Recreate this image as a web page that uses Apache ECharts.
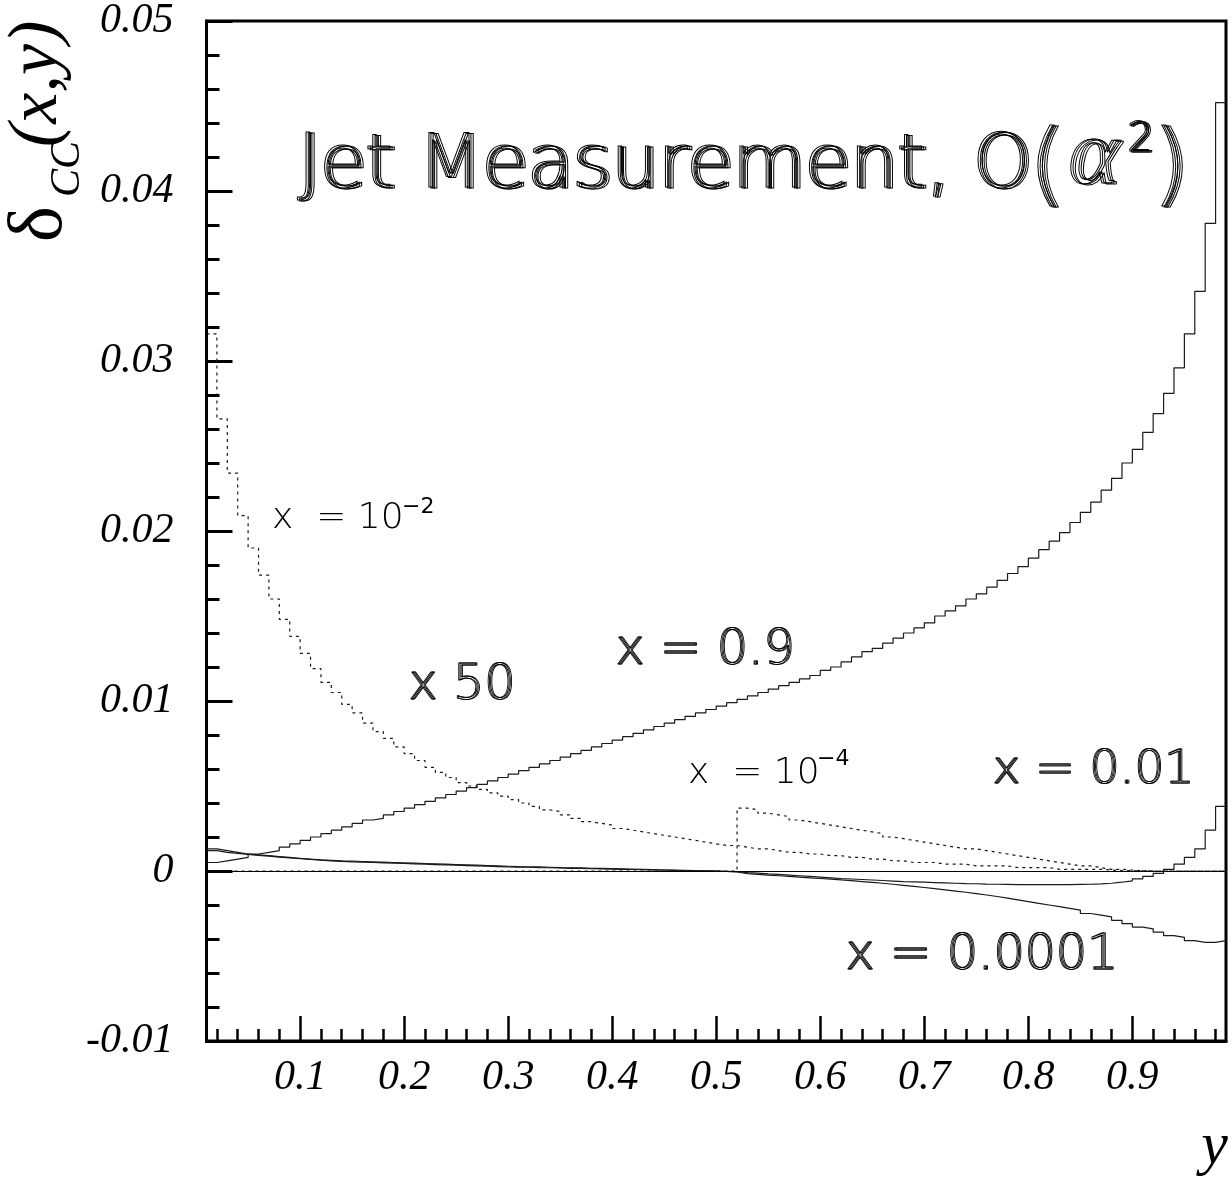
<!DOCTYPE html>
<html>
<head>
<meta charset="utf-8">
<script src="https://cdn.jsdelivr.net/npm/echarts@6/dist/echarts.min.js"></script>
<style>
  html, body { margin: 0; padding: 0; background: #fff; }
  #chart { width: 1232px; height: 1190px; }
</style>
</head>
<body>
<div id="chart"></div>
<script>
// histogram bins in y: width 0.01, first bin starts at 0.01 (98 bins up to 0.99)
const yFirstEdge = 0.01
const binWidth = 0.01

const xMajorTicks = [0.1, 0.2, 0.3, 0.4, 0.5, 0.6, 0.7, 0.8, 0.9]
const xMinorTicks = [0.02, 0.04, 0.06, 0.08, 0.12, 0.14, 0.16, 0.18, 0.22, 0.24, 0.26, 0.28,
  0.32, 0.34, 0.36, 0.38, 0.42, 0.44, 0.46, 0.48, 0.52, 0.54, 0.56, 0.58, 0.62, 0.64, 0.66, 0.68,
  0.72, 0.74, 0.76, 0.78, 0.82, 0.84, 0.86, 0.88, 0.92, 0.94, 0.96, 0.98]

// x = 0.9
const deltaX09 = [
  0.0005, 0.0006, 0.0007, 0.0008, 0.0010, 0.0011, 0.0012, 0.0014, 0.0016, 0.0018,
  0.0020, 0.0022, 0.0024, 0.0026, 0.0028, 0.0030, 0.0031, 0.0033, 0.0035, 0.0037,
  0.0039, 0.0041, 0.0043, 0.0045, 0.0047, 0.0049, 0.0051, 0.0053, 0.0055, 0.0057,
  0.0059, 0.0061, 0.0063, 0.0065, 0.0067, 0.0069, 0.0071, 0.0073, 0.0075, 0.0077,
  0.0079, 0.0081, 0.0083, 0.0085, 0.0087, 0.0089, 0.0091, 0.0093, 0.0095, 0.0097,
  0.0099, 0.0101, 0.0103, 0.0105, 0.0107, 0.0109, 0.0111, 0.0113, 0.0115, 0.0118,
  0.0120, 0.0123, 0.0126, 0.0129, 0.0131, 0.0134, 0.0137, 0.0140, 0.0143, 0.0146,
  0.0150, 0.0153, 0.0156, 0.0160, 0.0163, 0.0167, 0.0171, 0.0175, 0.0179, 0.0184,
  0.0189, 0.0194, 0.0199, 0.0205, 0.0211, 0.0217, 0.0224, 0.0231, 0.0240, 0.0248,
  0.0258, 0.0269, 0.0281, 0.0296, 0.0316, 0.0341, 0.0381, 0.0452
]

// x = 0.01
const deltaX001 = [
  0.0013, 0.0012, 0.0011, 0.0010, 0.00095, 0.0009, 0.00085, 0.0008, 0.00075, 0.0007,
  0.00066, 0.00063, 0.0006, 0.00058, 0.00056, 0.00054, 0.00052, 0.0005, 0.00048, 0.00046,
  0.00044, 0.00042, 0.0004, 0.00038, 0.00036, 0.00034, 0.00032, 0.0003, 0.00028, 0.00026,
  0.00025, 0.00024, 0.00022, 0.0002, 0.00019, 0.00018, 0.00016, 0.00015, 0.00014, 0.00012,
  0.0001, 0.00009, 0.00008, 0.00006, 0.00005, 0.00004, 0.00002, 0.00001, 0, -0.00002,
  -0.00004, -0.0001, -0.00013, -0.00017, -0.0002, -0.00024, -0.00028, -0.00032, -0.00036, -0.0004,
  -0.00044, -0.00047, -0.0005, -0.00053, -0.00056, -0.00059, -0.00062, -0.00064, -0.00066, -0.00068,
  -0.0007, -0.00072, -0.00074, -0.00075, -0.00077, -0.00078, -0.00079, -0.0008, -0.0008, -0.0008,
  -0.0008, -0.0008, -0.0008, -0.00079, -0.00078, -0.00076, -0.00072, -0.00066, -0.00058, -0.00046,
  -0.00032, -0.00014, 0.0001, 0.0004, 0.0008, 0.0013, 0.0024, 0.0038
]

// x = 0.0001
const deltaX00001 = [
  0.0012, 0.0011, 0.00104, 0.00098, 0.00092, 0.00087, 0.00082, 0.00077, 0.00072, 0.00068,
  0.00064, 0.0006, 0.00057, 0.00054, 0.00052, 0.0005, 0.00048, 0.00046, 0.00044, 0.00042,
  0.0004, 0.00038, 0.00036, 0.00034, 0.00032, 0.0003, 0.00028, 0.00026, 0.00024, 0.00023,
  0.00022, 0.0002, 0.00019, 0.00018, 0.00016, 0.00015, 0.00014, 0.00012, 0.00011, 0.0001,
  0.00009, 0.00008, 0.00007, 0.00006, 0.00004, 0.00003, 0.00002, 0.00001, -0.00001, -0.00003,
  -0.00006, -0.00015, -0.0002, -0.00024, -0.00028, -0.00032, -0.00036, -0.0004, -0.00044, -0.00048,
  -0.00052, -0.00057, -0.00062, -0.00067, -0.00072, -0.00078, -0.00084, -0.0009, -0.00097, -0.00104,
  -0.00111, -0.00118, -0.00125, -0.00133, -0.00141, -0.0015, -0.0016, -0.0017, -0.0018, -0.0019,
  -0.002, -0.0021, -0.0022, -0.0023, -0.0025, -0.0026, -0.0027, -0.0029, -0.0031, -0.0033,
  -0.0034, -0.0036, -0.0038, -0.0039, -0.0041, -0.0042, -0.0042, -0.0041
]

// x = 1e-2, scaled x 50 (dotted)
const deltaX1em2x50 = [
  0.0316, 0.0266, 0.0234, 0.0209, 0.0190, 0.0174, 0.0160, 0.0148, 0.0138, 0.0128,
  0.0119, 0.0111, 0.0105, 0.0098, 0.0093, 0.0087, 0.0082, 0.0078, 0.0073, 0.0069,
  0.0065, 0.0061, 0.0058, 0.0055, 0.0052, 0.0050, 0.0048, 0.0046, 0.0044, 0.0042,
  0.0040, 0.0038, 0.0036, 0.0035, 0.0033, 0.0031, 0.0029, 0.0028, 0.0027, 0.0025,
  0.0024, 0.0023, 0.0022, 0.0021, 0.0020, 0.0019, 0.0018, 0.0017, 0.0016, 0.0015,
  0.0015, 0.0014, 0.0013, 0.0013, 0.0012, 0.0011, 0.0011, 0.0010, 0.0010, 0.0009,
  0.0009, 0.0008, 0.0008, 0.0007, 0.0007, 0.0006, 0.0006, 0.0005, 0.0005, 0.0005,
  0.0004, 0.0004, 0.0004, 0.0003, 0.0003, 0.0003, 0.0003, 0.0002, 0.0002, 0.0002,
  0.0002, 0.0001, 0.0001, 0.0001, 0.0001, 0.0001, 0.00005, 0.00003, 0.00002, 0.00001,
  0, 0, 0, 0, 0, 0, 0, 0
]

// x = 1e-4, scaled x 50 (dotted)
const deltaX1em4x50 = [
  0, 0, 0, 0, 0, 0, 0, 0, 0, 0,
  0, 0, 0, 0, 0, 0, 0, 0, 0, 0,
  0, 0, 0, 0, 0, 0, 0, 0, 0, 0,
  0, 0, 0, 0, 0, 0, 0, 0, 0, 0,
  0, 0, 0, 0, 0, 0, 0, 0, 0, 0,
  0, 0.0037, 0.0036, 0.0034, 0.0033, 0.0032, 0.0030, 0.0029, 0.0028, 0.0027,
  0.0026, 0.0025, 0.0024, 0.0023, 0.0022, 0.0020, 0.0019, 0.0018, 0.0017, 0.0016,
  0.0015, 0.0014, 0.0013, 0.0013, 0.0012, 0.0011, 0.0010, 0.0009, 0.0008, 0.0007,
  0.0006, 0.0005, 0.0004, 0.0003, 0.0003, 0.0002, 0.0001, 0.0001, 0.00005, 0.00002,
  0, 0, 0, 0, 0, 0, 0, 0
]

const chart = echarts.init(document.getElementById('chart'))

// bin contents -> step points at the left edges, plus the closing right edge
const toSteps = (values) => {
  const pts = values.map((v, i) => [yFirstEdge + i * binWidth, v])
  pts.push([yFirstEdge + values.length * binWidth, values[values.length - 1]])
  return pts
}

const histSeries = (name, values, dotted) => ({
  name,
  type: 'line',
  step: 'end',
  symbol: 'none',
  silent: true,
  data: toSteps(values),
  lineStyle: { color: '#1a1a1a', width: 1.2, type: dotted ? [3, 4] : 'solid' },
  z: 3
})

const SANS = '"DejaVu Sans"'
const SERIF = '"Liberation Serif"'

// outlined text drawn a few times with a small shift, like the plotter font
const hatched = (text, x, y, font, copies, dx, dy, width) =>
  Array.from({ length: copies }, (_, k) => ({
    type: 'text',
    x: x + k * dx,
    y: y + k * dy,
    silent: true,
    style: {
      text, font, fill: 'rgba(0,0,0,0)', stroke: '#000', lineWidth: width || 0.9,
      align: 'left', verticalAlign: 'middle'
    }
  }))

const plain = (text, x, y, font, align) => ({
  type: 'text', x, y, silent: true,
  style: { text, font, fill: '#000', align: align || 'left', verticalAlign: 'middle' }
})

const graphics = [
  // title
  ...hatched('Jet Measurement, O', 297, 168, `200 74px ${SANS}`, 3, 2.2, 0.4, 1),
  ...hatched('(', 1028, 171, `200 90px ${SANS}`, 3, 2.2, 0.4, 1),
  ...hatched('\u03b1', 1068, 158, `italic 94px ${SERIF}`, 3, 2.2, 0.4, 1),
  ...hatched('2', 1127, 141, `200 40px ${SANS}`, 3, 1.6, 0.3, 1),
  ...hatched(')', 1152, 171, `200 90px ${SANS}`, 3, 2.2, 0.4, 1),
  // curve labels
  plain('x  = 10', 272, 519, `200 36px ${SANS}`),
  plain('\u22122', 402, 507, `22px ${SANS}`),
  plain('x  = 10', 688, 774, `200 36px ${SANS}`),
  plain('\u22124', 817, 759, `22px ${SANS}`),
  ...hatched('x 50', 408, 686, `200 49px ${SANS}`, 2, 1.2, 0),
  ...hatched('x = 0.9', 615, 651, `200 49px ${SANS}`, 2, 1.2, 0),
  ...hatched('x = 0.01', 992, 771, `200 47px ${SANS}`, 2, 1.2, 0),
  ...hatched('x = 0.0001', 845, 956, `200 49px ${SANS}`, 2, 1.2, 0),
  // x axis title
  plain('y', 1228, 1147, `italic 60px ${SERIF}`, 'right'),
  // y axis title, rotated to read upwards
  {
    type: 'group',
    x: 0,
    y: 270,
    rotation: Math.PI / 2,
    children: [
      { type: 'text', x: 28, y: 41, silent: true,
        style: { text: '\u03b4', font: `76px ${SERIF}`, fill: '#000', verticalAlign: 'middle' } },
      { type: 'text', x: 73, y: 68, silent: true,
        style: { text: 'CC', font: `italic 42px ${SERIF}`, fill: '#000', verticalAlign: 'middle' } },
      { type: 'text', x: 123, y: 38, silent: true,
        style: { text: '(x,y)', font: `italic 70px ${SERIF}`, fill: '#000', verticalAlign: 'middle' } }
    ]
  }
]

const axisLabelStyle = {
  color: '#000',
  fontFamily: SERIF,
  fontStyle: 'italic',
  fontSize: 42
}

const option = {
  animation: false,
  backgroundColor: '#fff',
  grid: {
    left: 206.5,
    top: 21,
    width: 1019.5,
    height: 1020,
    show: true,
    borderColor: '#000',
    borderWidth: 3,
    backgroundColor: 'transparent',
    outerBoundsMode: 'none'
  },
  xAxis: [
    {
      type: 'value',
      min: 0.01,
      max: 0.99,
      position: 'bottom',
      axisLine: { onZero: false, lineStyle: { color: '#000', width: 3 } },
      axisTick: {
        inside: true, length: 25, customValues: xMajorTicks,
        lineStyle: { color: '#000', width: 2.5 }
      },
      axisLabel: {
        ...axisLabelStyle,
        margin: 16,
        customValues: xMajorTicks,
        formatter: (v) => v.toFixed(1)
      },
      splitLine: { show: false }
    },
    {
      type: 'value',
      min: 0.01,
      max: 0.99,
      position: 'bottom',
      axisLine: { show: false, onZero: false },
      axisTick: {
        inside: true, length: 12, customValues: xMinorTicks,
        lineStyle: { color: '#000', width: 2.5 }
      },
      axisLabel: { show: false },
      splitLine: { show: false }
    }
  ],
  yAxis: {
    type: 'value',
    min: -0.01,
    max: 0.05,
    interval: 0.01,
    axisLine: { show: true, onZero: false, lineStyle: { color: '#000', width: 3 } },
    axisTick: { show: true, inside: true, length: 26, lineStyle: { color: '#000', width: 3 } },
    minorTick: { show: true, splitNumber: 5, length: 13, lineStyle: { color: '#000', width: 3 } },
    axisLabel: {
      ...axisLabelStyle,
      margin: 33,
      formatter: (v) => (Math.abs(v) < 1e-9 ? '0' : v.toFixed(2))
    },
    splitLine: { show: false },
    minorSplitLine: { show: false }
  },
  series: [
    {
      ...histSeries('x = 0.9', deltaX09, false),
      markLine: {
        silent: true,
        symbol: 'none',
        label: { show: false },
        lineStyle: { color: '#000', width: 1, type: 'solid' },
        data: [{ yAxis: 0 }]
      }
    },
    histSeries('x = 0.01', deltaX001, false),
    histSeries('x = 0.0001', deltaX00001, false),
    histSeries('x = 1e-2 (x50)', deltaX1em2x50, true),
    histSeries('x = 1e-4 (x50)', deltaX1em4x50, true)
  ],
  graphic: graphics
}

chart.setOption(option)
</script>
</body>
</html>
